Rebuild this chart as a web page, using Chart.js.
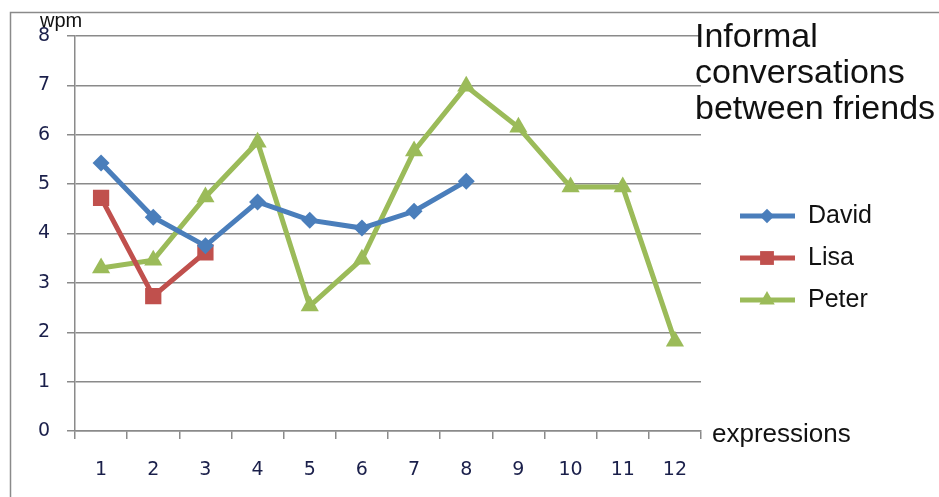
<!DOCTYPE html>
<html>
<head>
<meta charset="utf-8">
<script src="https://cdn.jsdelivr.net/npm/chart.js@4/dist/chart.umd.min.js"></script>
<style>
  html, body { margin: 0; padding: 0; background: #fff; }
  #wrap { width: 939px; height: 497px; position: relative; }
</style>
</head>
<body>
<div id="wrap"><canvas id="c" width="939" height="497"></canvas></div>
<script>
// Words per minute per expression, by speaker
const expressions = ['1', '2', '3', '4', '5', '6', '7', '8', '9', '10', '11', '12'];
const david = [5.43, 4.33, 3.75, 4.64, 4.27, 4.11, 4.45, 5.06, null, null, null, null];
const lisa  = [4.72, 2.73, 3.62, null, null, null, null, null, null, null, null, null];
const peter = [3.30, 3.46, 4.74, 5.85, 2.53, 3.48, 5.67, 6.98, 6.15, 4.94, 4.94, 1.82];
const seriesNames = ['David', 'Lisa', 'Peter'];
const titleLines = ['Informal', 'conversations', 'between friends'];
const yAxisLabel = 'wpm';
const xAxisLabel = 'expressions';

const colors = ['#4a7ebb', '#c0504d', '#9bbb59'];
const styles = ['rectRot', 'rect', 'triangle'];
const radii = [8.5, 11.5, 10.5];
const textFont = '"Liberation Sans", Arial, sans-serif';
const tickFont = { family: '"DejaVu Sans", Verdana, sans-serif', size: 19 };

const decor = {
  id: 'decor',
  beforeDraw(chart) {
    const ctx = chart.ctx;
    ctx.save();
    ctx.fillStyle = '#fff';
    ctx.fillRect(0, 0, chart.width, chart.height);
    ctx.strokeStyle = '#8a8a8a';
    ctx.lineWidth = 1.5;
    ctx.beginPath();
    ctx.moveTo(10.5, chart.height);
    ctx.lineTo(10.5, 12.5);
    ctx.lineTo(chart.width, 12.5);
    ctx.stroke();
    ctx.restore();
  },
  afterDraw(chart) {
    const ctx = chart.ctx;
    const area = chart.chartArea;
    ctx.save();
    ctx.fillStyle = '#111';
    ctx.textBaseline = 'middle';
    ctx.textAlign = 'left';
    // axis names
    ctx.font = '20px ' + textFont;
    ctx.fillText(yAxisLabel, 40, 21);
    ctx.font = '26px ' + textFont;
    ctx.fillText(xAxisLabel, area.right + 11, area.bottom + 4);
    // title
    ctx.font = '34px ' + textFont;
    titleLines.forEach((t, i) => ctx.fillText(t, area.right - 6, 38 + i * 36));
    // legend
    chart.data.datasets.forEach((ds, i) => {
      const y = 216 + i * 42;
      ctx.strokeStyle = ds.borderColor;
      ctx.lineWidth = 5;
      ctx.beginPath();
      ctx.moveTo(740, y);
      ctx.lineTo(795, y);
      ctx.stroke();
      ctx.fillStyle = ds.borderColor;
      Chart.helpers.drawPoint(ctx, { pointStyle: ds.pointStyle, radius: ds.pointRadius * 0.85, borderWidth: 0 }, 767, y);
      ctx.fillStyle = '#111';
      ctx.font = '25px ' + textFont;
      ctx.fillText(seriesNames[i], 808, y);
    });
    ctx.restore();
  }
};

const seriesData = [david, lisa, peter];
new Chart(document.getElementById('c'), {
  type: 'line',
  data: {
    labels: expressions,
    datasets: seriesData.map((d, i) => ({
      label: seriesNames[i],
      data: d,
      borderColor: colors[i],
      backgroundColor: colors[i],
      pointBackgroundColor: colors[i],
      pointBorderColor: colors[i],
      pointStyle: styles[i],
      pointRadius: radii[i],
      pointBorderWidth: 0,
      borderWidth: 5,
      tension: 0,
      spanGaps: false
    }))
  },
  options: {
    responsive: false,
    animation: false,
    layout: { padding: { left: 0, right: 238, top: 36, bottom: 0 } },
    plugins: { legend: { display: false }, tooltip: { enabled: false }, title: { display: false } },
    scales: {
      x: {
        type: 'category',
        offset: true,
        afterFit(s) { s.height = 66; },
        grid: { offset: true, drawOnChartArea: false, drawTicks: true, tickLength: 8, color: '#8a8a8a', lineWidth: 1.5 },
        border: { display: true, color: '#8a8a8a', width: 1.5 },
        ticks: { padding: 20, color: '#1a1f4a', font: tickFont }
      },
      y: {
        min: 0,
        max: 8,
        afterFit(s) { s.width = 75; },
        grid: { color: '#8a8a8a', lineWidth: 1.5, tickLength: 8 },
        border: { display: true, color: '#8a8a8a', width: 1.5 },
        ticks: { stepSize: 1, padding: 17, color: '#1a1f4a', font: tickFont }
      }
    }
  },
  plugins: [decor]
});
</script>
</body>
</html>
